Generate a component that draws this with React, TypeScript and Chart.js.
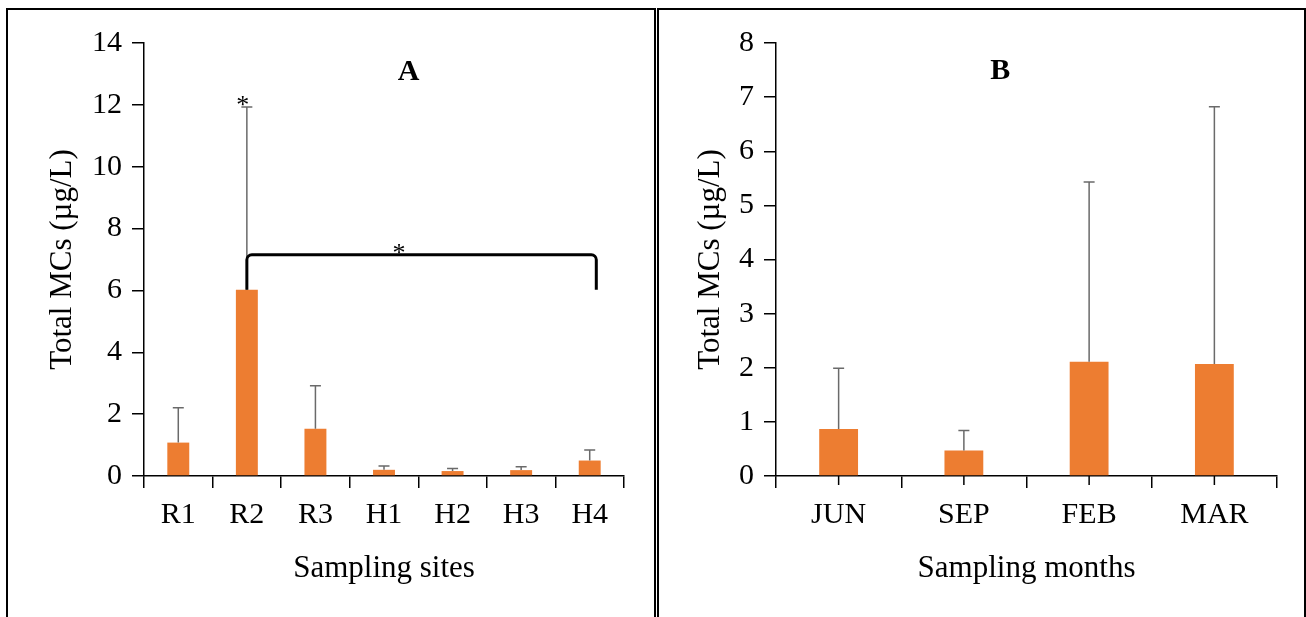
import { useEffect, useRef } from "react";
import { Chart, registerables } from "chart.js";

Chart.register(...registerables);

// ---------- data ----------
const sites = ["R1", "R2", "R3", "H1", "H2", "H3", "H4"];
const siteMeans = [1.08, 6.02, 1.53, 0.2, 0.16, 0.19, 0.5];
const siteSD = [1.13, 5.91, 1.39, 0.12, 0.08, 0.11, 0.34];
const siteAxisMax = 14;
const siteAxisStep = 2;

const months = ["JUN", "SEP", "FEB", "MAR"];
const monthMeans = [0.87, 0.47, 2.11, 2.07];
const monthSD = [1.12, 0.37, 3.32, 4.75];
const monthAxisMax = 8;
const monthAxisStep = 1;

// significance marks
const starredSites = ["R2"];
const bracketSites = ["R2", "H4"];
const bracketLevel = 7.15;

// ---------- styles ----------
const FONT = "'Liberation Serif', 'Times New Roman', serif";
const ORANGE = "#ED7D31";
const ERR = "#6A6A6A";

function errorBarPlugin(means: number[], sd: number[]) {
  return {
    id: "errorBars",
    afterDatasetsDraw(chart: any) {
      const meta = chart.getDatasetMeta(0);
      const ys = chart.scales.y;
      const ctx = chart.ctx;
      ctx.save();
      ctx.strokeStyle = ERR;
      ctx.lineWidth = 1.5;
      meta.data.forEach((bar: any, i: number) => {
        const x = bar.x;
        const y0 = ys.getPixelForValue(means[i]);
        const y1 = ys.getPixelForValue(means[i] + sd[i]);
        ctx.beginPath();
        ctx.moveTo(x, y0);
        ctx.lineTo(x, y1);
        ctx.moveTo(x - 5.5, y1);
        ctx.lineTo(x + 5.5, y1);
        ctx.stroke();
      });
      ctx.restore();
    },
  };
}

function letterPlugin(letter: string, xIndex: number, yValue: number) {
  return {
    id: "panelLetter",
    afterDraw(chart: any) {
      const ctx = chart.ctx;
      const x = chart.scales.x.getPixelForValue(xIndex);
      const y = chart.scales.y.getPixelForValue(yValue);
      ctx.save();
      ctx.fillStyle = "#000";
      ctx.font = `bold 30px ${FONT}`;
      ctx.textAlign = "center";
      ctx.textBaseline = "middle";
      ctx.fillText(letter, x, y);
      ctx.restore();
    },
  };
}

function centerTicksPlugin(len: number) {
  return {
    id: "centerTicks",
    afterDraw(chart: any) {
      const ctx = chart.ctx;
      const xs = chart.scales.x;
      const yb = chart.chartArea.bottom;
      ctx.save();
      ctx.strokeStyle = "#000";
      ctx.lineWidth = 1.5;
      xs.getLabels().forEach((_: string, i: number) => {
        const x = xs.getPixelForValue(i);
        ctx.beginPath();
        ctx.moveTo(x, yb);
        ctx.lineTo(x, yb + len);
        ctx.stroke();
      });
      ctx.restore();
    },
  };
}

function significancePlugin() {
  return {
    id: "significance",
    afterDraw(chart: any) {
      const ctx = chart.ctx;
      const xs = chart.scales.x;
      const ys = chart.scales.y;
      ctx.save();
      ctx.fillStyle = "#000";
      ctx.font = `26px ${FONT}`;
      ctx.textAlign = "center";
      ctx.textBaseline = "alphabetic";
      // stars over error bars
      starredSites.forEach((s) => {
        const i = sites.indexOf(s);
        const x = xs.getPixelForValue(i) - 4;
        const y = ys.getPixelForValue(siteMeans[i] + siteSD[i]);
        ctx.fillText("*", x, y + 6);
      });
      // bracket
      const i0 = sites.indexOf(bracketSites[0]);
      const i1 = sites.indexOf(bracketSites[1]);
      const meta = chart.getDatasetMeta(0);
      const bw = meta.data[i1].width;
      const xa = xs.getPixelForValue(i0);
      const xb = xs.getPixelForValue(i1) + bw * 0.3;
      const ya = ys.getPixelForValue(siteMeans[i0]);
      const yb = ys.getPixelForValue(siteMeans[i0]);
      const yt = ys.getPixelForValue(bracketLevel);
      ctx.strokeStyle = "#000";
      ctx.lineWidth = 3;
      ctx.lineJoin = "round";
      ctx.beginPath();
      ctx.moveTo(xa, ya);
      ctx.arcTo(xa, yt, xa + 8, yt, 5);
      ctx.arcTo(xb, yt, xb, yt + 8, 5);
      ctx.lineTo(xb, yb);
      ctx.stroke();
      const xm = xs.getPixelForValue(3.22);
      ctx.fillText("*", xm, yt + 6);
      ctx.restore();
    },
  };
}

function makeConfig(opts: {
  labels: string[];
  means: number[];
  max: number;
  step: number;
  barPct: number;
  xTitle: string;
  padLeft: number;
  padRight: number;
  yWidth: number;
  plugins: any[];
}) {
  const tickFont = { family: FONT, size: 30 };
  const titleFont = { family: FONT, size: 31 };
  return {
    type: "bar" as const,
    data: {
      labels: opts.labels,
      datasets: [
        {
          data: opts.means,
          backgroundColor: ORANGE,
          borderWidth: 0,
          barPercentage: opts.barPct,
          categoryPercentage: 1,
        },
      ],
    },
    options: {
      responsive: false,
      animation: false as const,
      layout: {
        padding: { left: opts.padLeft, top: 33, right: opts.padRight, bottom: 30 },
      },
      plugins: {
        legend: { display: false },
        tooltip: { enabled: false },
        title: { display: false },
      },
      scales: {
        x: {
          type: "category" as const,
          grid: {
            display: true,
            offset: true,
            drawOnChartArea: false,
            drawTicks: true,
            tickLength: 12,
            color: "#000",
            lineWidth: 1.5,
          },
          border: { display: true, color: "#000", width: 1.5 },
          ticks: { color: "#000", font: tickFont, padding: 9, maxRotation: 0 },
          title: {
            display: true,
            text: opts.xTitle,
            color: "#000",
            font: titleFont,
            padding: 0,
          },
          afterFit(scale: any) {
            scale.height = 111;
          },
        },
        y: {
          min: 0,
          max: opts.max,
          grid: {
            display: true,
            drawOnChartArea: false,
            drawTicks: true,
            tickLength: 12,
            color: "#000",
            lineWidth: 1.5,
          },
          border: { display: true, color: "#000", width: 1.5 },
          ticks: { stepSize: opts.step, color: "#000", font: tickFont, padding: 10 },
          title: {
            display: true,
            text: "Total MCs (µg/L)",
            color: "#000",
            font: titleFont,
            padding: 0,
          },
          afterFit(scale: any) {
            scale.width = opts.yWidth;
          },
        },
      },
    },
    plugins: opts.plugins,
  };
}

export default function App() {
  const leftRef = useRef<HTMLCanvasElement | null>(null);
  const rightRef = useRef<HTMLCanvasElement | null>(null);

  useEffect(() => {
    const left = new Chart(
      leftRef.current as HTMLCanvasElement,
      makeConfig({
        labels: sites,
        means: siteMeans,
        max: siteAxisMax,
        step: siteAxisStep,
        barPct: 0.32,
        xTitle: "Sampling sites",
        padLeft: 36,
        padRight: 30,
        yWidth: 100,
        plugins: [
          errorBarPlugin(siteMeans, siteSD),
          significancePlugin(),
          letterPlugin("A", 3.36, 13.06),
        ],
      }) as any
    );
    const right = new Chart(
      rightRef.current as HTMLCanvasElement,
      makeConfig({
        labels: months,
        means: monthMeans,
        max: monthAxisMax,
        step: monthAxisStep,
        barPct: 0.31,
        xTitle: "Sampling months",
        padLeft: 33,
        padRight: 26,
        yWidth: 84,
        plugins: [
          errorBarPlugin(monthMeans, monthSD),
          centerTicksPlugin(9),
          letterPlugin("B", 1.29, 7.47),
        ],
      }) as any
    );
    return () => {
      left.destroy();
      right.destroy();
    };
  }, []);

  return (
    <div
      style={{
        position: "absolute",
        left: 0,
        top: 0,
        width: 1306,
        height: 617,
        overflow: "hidden",
        background: "#fff",
      }}
    >
      <div
        style={{
          position: "absolute",
          left: 6,
          top: 8,
          width: 646,
          height: 640,
          border: "2px solid #000",
        }}
      />
      <div
        style={{
          position: "absolute",
          left: 657,
          top: 8,
          width: 645,
          height: 640,
          border: "2px solid #000",
        }}
      />
      <canvas
        ref={leftRef}
        width={646}
        height={607}
        style={{ position: "absolute", left: 8, top: 10, width: 646, height: 607 }}
      />
      <canvas
        ref={rightRef}
        width={644}
        height={607}
        style={{ position: "absolute", left: 659, top: 10, width: 644, height: 607 }}
      />
    </div>
  );
}
